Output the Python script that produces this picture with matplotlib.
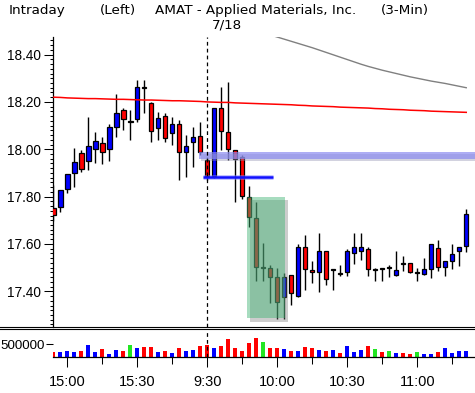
import numpy as np
import matplotlib.pyplot as plt
from matplotlib.patches import Rectangle
from matplotlib.lines import Line2D
import matplotlib.patheffects as pe

W, H = 475, 393
TICK_FONT = ['Liberation Sans', 'DejaVu Sans']

# 3-minute bars: 14:54-15:57 previous day, then 9:30-11:21 on 7/18
prev_day = [f'{14 + (54 + 3 * i) // 60}:{(54 + 3 * i) % 60:02d}' for i in range(22)]
today = [f'{9 + (30 + 3 * i) // 60}:{(30 + 3 * i) % 60:02d}' for i in range(38)]
times = prev_day + today

opens = [17.753, 17.757, 17.831, 17.899, 17.983, 17.951, 18.000, 18.028, 18.000, 18.095,
         18.165, 18.114, 18.127, 18.262, 18.194, 18.089, 18.142, 18.068, 18.106, 17.987,
         18.030, 18.056,
         17.955, 17.888, 18.173, 18.072, 17.997, 17.966, 17.797, 17.708, 17.497, 17.497,
         17.459, 17.375, 17.468, 17.380, 17.586, 17.490, 17.480, 17.570, 17.490, 17.478,
         17.480, 17.561, 17.572, 17.578, 17.489, 17.496, 17.497, 17.470, 17.520, 17.518,
         17.476, 17.472, 17.493, 17.584, 17.501, 17.529, 17.572, 17.591]
highs = [17.849, 17.830, 17.895, 18.004, 17.997, 18.138, 18.074, 18.053, 18.107, 18.234,
         18.173, 18.166, 18.293, 18.293, 18.201, 18.159, 18.155, 18.138, 18.124, 18.060,
         18.095, 18.117,
         17.967, 18.173, 18.264, 18.283, 17.997, 17.976, 17.845, 17.779, 17.603, 17.511,
         17.497, 17.476, 17.468, 17.599, 17.638, 17.528, 17.645, 17.570, 17.496, 17.511,
         17.578, 17.648, 17.648, 17.586, 17.500, 17.496, 17.511, 17.570, 17.548, 17.518,
         17.497, 17.540, 17.599, 17.617, 17.527, 17.600, 17.586, 17.748]
lows = [17.697, 17.736, 17.814, 17.842, 17.905, 17.913, 17.941, 17.937, 17.952, 18.053,
        18.082, 18.039, 18.117, 18.152, 18.032, 18.039, 18.032, 18.018, 17.870, 17.884,
        17.924, 17.976,
        17.870, 17.877, 17.997, 17.955, 17.776, 17.789, 17.673, 17.445, 17.445, 17.349,
        17.282, 17.282, 17.342, 17.377, 17.406, 17.436, 17.398, 17.427, 17.406, 17.465,
        17.466, 17.515, 17.532, 17.466, 17.445, 17.445, 17.459, 17.466, 17.487, 17.476,
        17.445, 17.469, 17.455, 17.486, 17.466, 17.494, 17.508, 17.567]
closes = [17.722, 17.828, 17.894, 17.945, 17.918, 18.014, 18.035, 17.987, 18.093, 18.152,
          18.128, 18.114, 18.262, 18.257, 18.077, 18.134, 18.046, 18.106, 17.987, 18.014,
          18.053, 17.987,
          17.888, 18.173, 18.077, 18.000, 17.958, 17.803, 17.713, 17.501, 17.497, 17.462,
          17.354, 17.459, 17.392, 17.586, 17.494, 17.480, 17.570, 17.451, 17.494, 17.474,
          17.570, 17.586, 17.586, 17.493, 17.489, 17.494, 17.497, 17.489, 17.515, 17.480,
          17.476, 17.496, 17.599, 17.501, 17.527, 17.556, 17.586, 17.725]
volumes = [192000, 190000, 242000, 195000, 240000, 462000, 193000, 308000, 142000, 281000,
           243000, 462000, 346000, 385000, 384000, 192000, 242000, 154000, 346000, 242000,
           281000, 423000,
           462000, 346000, 423000, 692000, 346000, 231000, 538000, 731000, 577000, 346000,
           373000, 308000, 231000, 230000, 385000, 346000, 269000, 231000, 269000, 154000,
           423000, 192000, 269000, 423000, 308000, 192000, 231000, 154000, 155000, 115000,
           192000, 115000, 116000, 192000, 346000, 154000, 231000, 232000]

ma_red = [18.220, 18.219, 18.217, 18.216, 18.215, 18.214, 18.214, 18.213, 18.212, 18.211,
          18.211, 18.210, 18.209, 18.208, 18.208, 18.207, 18.206, 18.205, 18.205, 18.204,
          18.203, 18.202,
          18.200, 18.199, 18.198, 18.198, 18.196, 18.195, 18.194, 18.193, 18.192, 18.191,
          18.190, 18.189, 18.188, 18.186, 18.185, 18.183, 18.182, 18.181, 18.180, 18.178,
          18.177, 18.176, 18.175, 18.174, 18.172, 18.171, 18.169, 18.168, 18.167, 18.165,
          18.164, 18.163, 18.161, 18.160, 18.159, 18.158, 18.157, 18.156]
# slow average only comes into view after 10:00 (above the scale before)
ma_gray_times = times[31:]
ma_gray = [18.483, 18.474, 18.465, 18.456, 18.447, 18.438, 18.429, 18.419, 18.409, 18.399,
           18.389, 18.379, 18.369, 18.359, 18.350, 18.342, 18.334, 18.327, 18.320, 18.313,
           18.306, 18.300, 18.294, 18.288, 18.283, 18.278, 18.272, 18.266, 18.260]

# drawn annotations
band_low, band_high, band_from = 17.958, 17.988, '15:57'
line_level, line_from, line_to = 17.883, '9:30', '9:57'
box_low, box_high, box_from, box_to = 17.286, 17.800, '9:48', '10:03'

major_labels = ['15:00', '15:30', '9:30', '10:00', '10:30', '11:00']
minor_labels = ['15:15', '15:45', '9:45', '10:15', '10:45', '11:15']

x = np.arange(len(times))
idx = {t: i for i, t in enumerate(times)}
o, h, l, c = map(np.array, (opens, highs, lows, closes))
up, down = c > o, c < o
body_col = np.where(up, '#0000ff', np.where(down, '#ff0000', 'black'))
vol_col = np.where(up, '#0000ff', np.where(down, '#ff0000', '#22e622'))

fig = plt.figure(figsize=(W / 100, H / 100), dpi=100)
ax = fig.add_axes([53 / W, 1 - 326.7 / H, 422 / W, (326.7 - 37.3) / H])
axv = fig.add_axes([53 / W, 1 - 357.3 / H, 422 / W, (357.3 - 329.5) / H])

xl = (-0.05, 60.25)

# candles
ax.vlines(x, l, h, color='black', lw=1, zorder=2)
ax.bar(x, np.maximum(np.abs(c - o), 0.004), bottom=np.minimum(o, c), width=0.62,
       color=body_col, edgecolor='black', linewidth=0.9, zorder=3)

ax.plot(x, ma_red, color='#ff0000', lw=1.1, zorder=4)
ax.plot([idx[t] for t in ma_gray_times], ma_gray, color='#808080', lw=1, zorder=4)

ax.add_patch(Rectangle((idx[band_from] - 0.15, band_low), 70, band_high - band_low,
                       facecolor='#8c8cf0', alpha=0.7, edgecolor='none', zorder=5,
                       path_effects=[pe.SimplePatchShadow(offset=(1, -1.5), shadow_rgbFace='#9090b0', alpha=0.4),
                                     pe.Normal()]))
ax.plot([idx[line_from] - 0.6, idx[line_to] + 0.4], [line_level] * 2, color='#1010ff', lw=1.8,
        solid_capstyle='butt', zorder=6,
        path_effects=[pe.Stroke(linewidth=3.5, foreground='#8080ff', alpha=0.5), pe.Normal()])
ax.add_patch(Rectangle((idx[box_from] - 0.37, box_low), idx[box_to] - idx[box_from] + 0.47,
                       box_high - box_low, facecolor='#3cb371', alpha=0.45, edgecolor='none',
                       zorder=5,
                       path_effects=[pe.SimplePatchShadow(offset=(2.5, -2.5), shadow_rgbFace='#707070', alpha=0.35),
                                     pe.Normal()]))

ax.axvline(idx['9:30'], color='black', lw=0.9, dashes=(3, 2.5), zorder=7)
axv.axvline(idx['9:30'], color='black', lw=0.9, dashes=(3, 2.5), zorder=7)

ax.set_xlim(*xl)
ax.set_ylim(17.2505, 18.473)
ax.set_yticks(np.arange(17.4, 18.41, 0.2))
ax.set_yticks(np.arange(17.26, 18.47, 0.02), minor=True)
ax.set_yticklabels([f'{v:.2f}' for v in np.arange(17.4, 18.41, 0.2)])
ax.tick_params(axis='y', which='major', length=6.5, width=0.75, pad=2.5,
               labelsize=9.8, direction='out')
ax.tick_params(axis='y', which='minor', length=2, width=0.75, direction='out')
ax.set_xticks([])
for s in ['top', 'right', 'bottom']:
    ax.spines[s].set_visible(False)
ax.spines['left'].set_linewidth(0.9)
for t in ax.get_yticklabels():
    t.set_family(TICK_FONT)

# volume
axv.bar(x, volumes, width=0.57, color=vol_col, zorder=2)
axv.set_xlim(*xl)
axv.set_ylim(0, 1.07e6)
axv.set_yticks([500000])
axv.set_yticklabels(['500000'])
axv.tick_params(axis='y', length=5, width=0.75, pad=1, labelsize=9.6)
axv.set_xticks([idx[t] for t in major_labels])
axv.set_xticklabels(major_labels)
axv.set_xticks([idx[t] for t in minor_labels], minor=True)
axv.tick_params(axis='x', which='major', length=7.5, width=0.75, pad=5, labelsize=10.5)
axv.tick_params(axis='x', which='minor', length=5, width=0.75)
for s in ['top', 'right', 'left']:
    axv.spines[s].set_visible(False)
axv.spines['bottom'].set_linewidth(0.9)
for t in axv.get_yticklabels() + axv.get_xticklabels():
    t.set_family(TICK_FONT)

# panel separator
for yy in (326.7, 329.3):
    fig.add_artist(Line2D([0, 1], [1 - yy / H] * 2, color='black', lw=0.8))

fs = 9.7
fig.text(9 / W, 1 - 10.5 / H, 'Intraday', fontsize=fs, va='center')
fig.text(100 / W, 1 - 10.5 / H, '(Left)', fontsize=fs, va='center')
fig.text(155 / W, 1 - 10.5 / H, 'AMAT - Applied Materials, Inc.', fontsize=fs, va='center')
fig.text(381 / W, 1 - 10.5 / H, '(3-Min)', fontsize=fs, va='center')
fig.text(227 / W, 1 - 24.5 / H, '7/18', fontsize=fs, va='center', ha='center')

fig.savefig('out.png', dpi=100)
